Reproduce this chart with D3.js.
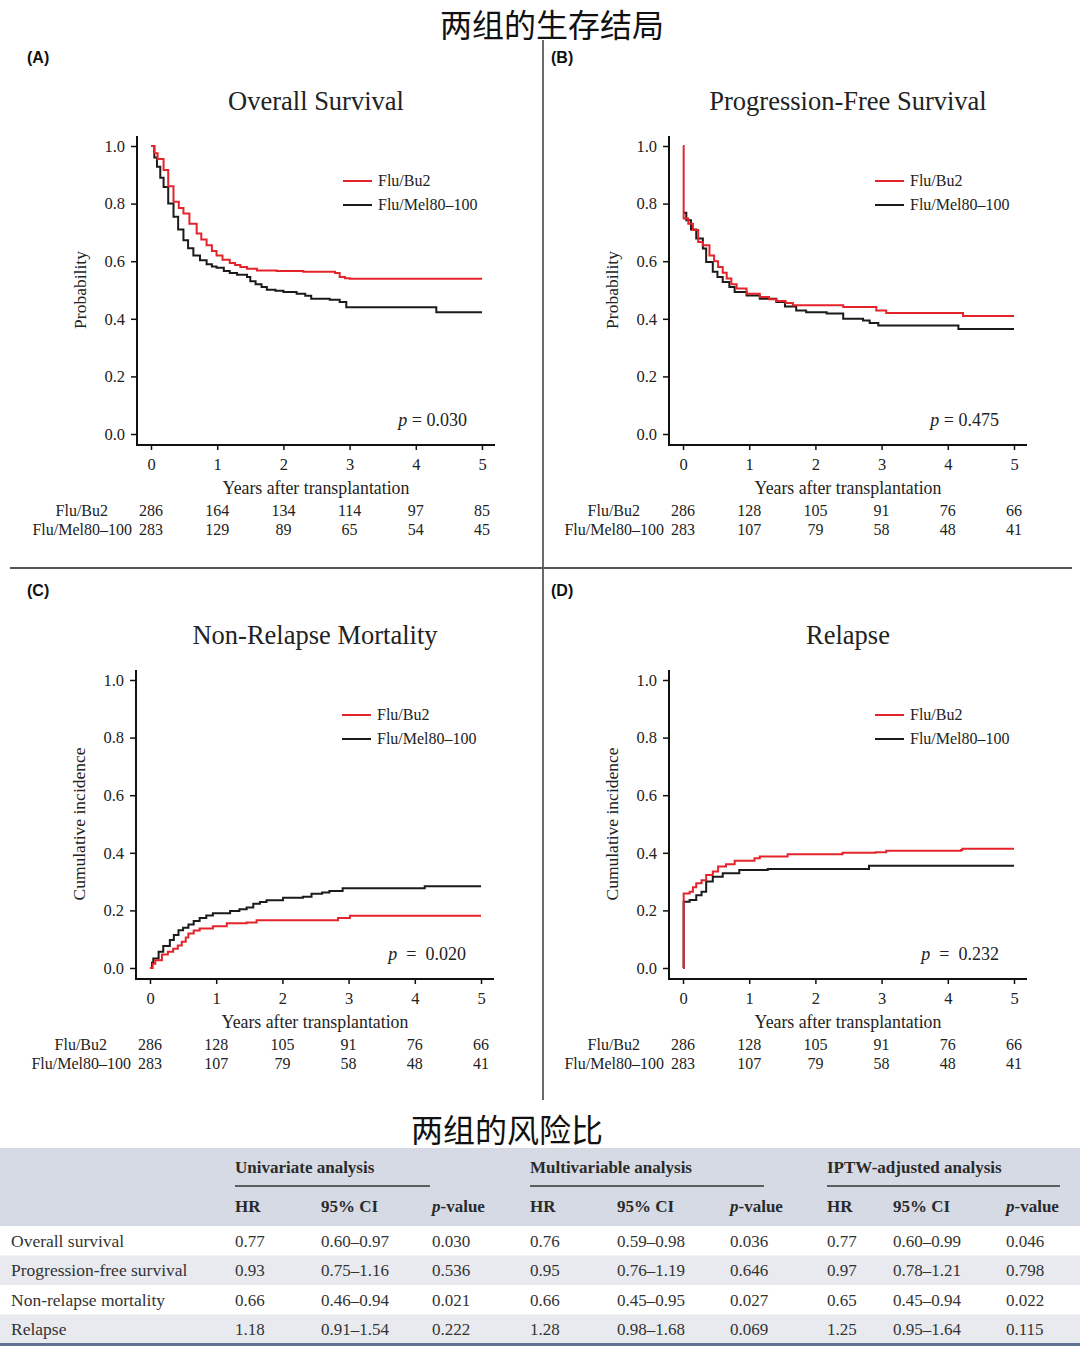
<!DOCTYPE html>
<html><head><meta charset="utf-8">
<script src="https://cdn.jsdelivr.net/npm/d3@7"></script>
<style>
body{margin:0;background:#fff;}
svg{display:block;}
</style></head>
<body>
<svg id="c" width="1080" height="1350"></svg>
<script>
// ---------- DATA ----------
const years = [0,1,2,3,4,5];
const probTicks = [0,0.2,0.4,0.6,0.8,1.0];
const seriesNames = ["Flu/Bu2","Flu/Mel80\u2013100"];

const osBu2 = [[0,1],[0.05,0.975],[0.1,0.955],[0.19,0.917],[0.26,0.86],[0.34,0.806],[0.42,0.785],[0.49,0.766],[0.58,0.73],[0.69,0.696],[0.76,0.675],[0.84,0.655],[0.92,0.635],[0.99,0.62],[1.08,0.605],[1.19,0.594],[1.27,0.587],[1.35,0.58],[1.45,0.574],[1.6,0.568],[1.9,0.566],[2.3,0.563],[2.78,0.559],[2.85,0.545],[2.93,0.541],[3.0,0.539],[5,0.539]];
const osMel = [[0,1],[0.05,0.96],[0.09,0.928],[0.14,0.89],[0.19,0.858],[0.26,0.8],[0.34,0.754],[0.41,0.71],[0.49,0.673],[0.56,0.645],[0.64,0.62],[0.74,0.603],[0.84,0.589],[0.92,0.582],[0.99,0.577],[1.1,0.566],[1.19,0.559],[1.3,0.553],[1.45,0.545],[1.5,0.53],[1.58,0.52],[1.67,0.51],[1.75,0.501],[1.88,0.497],[2.0,0.493],[2.2,0.487],[2.33,0.48],[2.42,0.47],[2.7,0.466],[2.85,0.458],[2.95,0.44],[4.13,0.44],[4.31,0.423],[5,0.423]];

const pfsBu2 = [[0,1],[0.01,0.748],[0.08,0.73],[0.15,0.708],[0.23,0.667],[0.3,0.655],[0.4,0.62],[0.47,0.6],[0.53,0.58],[0.6,0.56],[0.66,0.54],[0.73,0.52],[0.81,0.505],[0.96,0.487],[1.16,0.476],[1.3,0.468],[1.41,0.462],[1.55,0.455],[1.66,0.447],[2.42,0.441],[2.82,0.441],[2.92,0.429],[3.07,0.42],[4.21,0.42],[4.23,0.41],[5,0.41]];
const pfsMel = [[0,0.768],[0.05,0.742],[0.12,0.71],[0.2,0.679],[0.3,0.644],[0.35,0.597],[0.45,0.563],[0.52,0.545],[0.6,0.528],[0.7,0.51],[0.78,0.493],[0.96,0.481],[1.16,0.47],[1.41,0.458],[1.54,0.443],[1.71,0.429],[1.86,0.423],[2.17,0.418],[2.42,0.4],[2.72,0.394],[2.82,0.385],[2.95,0.377],[4.13,0.377],[4.16,0.365],[5,0.365]];

const nrmBu2 = [[0,0],[0.04,0.015],[0.08,0.027],[0.18,0.047],[0.27,0.056],[0.35,0.067],[0.42,0.078],[0.48,0.091],[0.54,0.106],[0.58,0.12],[0.66,0.13],[0.75,0.137],[0.95,0.145],[1.16,0.155],[1.46,0.158],[1.61,0.166],[2.81,0.166],[2.84,0.174],[3.02,0.181],[5,0.181]];
const nrmMel = [[0,0],[0.03,0.018],[0.05,0.033],[0.13,0.056],[0.2,0.076],[0.3,0.097],[0.36,0.115],[0.43,0.131],[0.5,0.14],[0.58,0.151],[0.66,0.163],[0.75,0.174],[0.85,0.182],[0.95,0.19],[1.21,0.198],[1.35,0.204],[1.46,0.21],[1.56,0.223],[1.66,0.229],[1.76,0.235],[2.01,0.244],[2.31,0.247],[2.44,0.258],[2.6,0.262],[2.71,0.267],[2.91,0.277],[4.12,0.277],[4.15,0.284],[5,0.284]];

const relBu2 = [[0,0],[0.01,0.259],[0.1,0.265],[0.15,0.28],[0.2,0.294],[0.28,0.305],[0.35,0.323],[0.45,0.335],[0.53,0.352],[0.65,0.36],[0.78,0.372],[1.08,0.381],[1.16,0.387],[1.58,0.395],[2.39,0.395],[2.41,0.4],[2.91,0.402],[3.07,0.407],[4.2,0.41],[4.22,0.414],[5,0.414]];
const relMel = [[0,0],[0.01,0.23],[0.1,0.236],[0.2,0.253],[0.28,0.265],[0.35,0.3],[0.45,0.317],[0.6,0.329],[0.85,0.34],[1.28,0.344],[2.79,0.344],[2.81,0.355],[5,0.355]];

const riskOSBu2 = [286,164,134,114,97,85];
const riskOSMel = [283,129,89,65,54,45];
const riskBu2 = [286,128,105,91,76,66];
const riskMel = [283,107,79,58,48,41];

const tableRows = ["Overall survival","Progression-free survival","Non-relapse mortality","Relapse"];
const analyses = ["Univariate analysis","Multivariable analysis","IPTW-adjusted analysis"];
const uniHR = ["0.77","0.93","0.66","1.18"];
const uniCI = ["0.60\u20130.97","0.75\u20131.16","0.46\u20130.94","0.91\u20131.54"];
const uniP = ["0.030","0.536","0.021","0.222"];
const mulHR = ["0.76","0.95","0.66","1.28"];
const mulCI = ["0.59\u20130.98","0.76\u20131.19","0.45\u20130.95","0.98\u20131.68"];
const mulP = ["0.036","0.646","0.027","0.069"];
const iptHR = ["0.77","0.97","0.65","1.25"];
const iptCI = ["0.60\u20130.99","0.78\u20131.21","0.45\u20130.94","0.95\u20131.64"];
const iptP = ["0.046","0.798","0.022","0.115"];

// ---------- DRAW ----------
const svg = d3.select("#c");
const SERIF = "'Liberation Serif','Times New Roman',serif";
const CJK = "'Noto Sans CJK SC',sans-serif";
const RED = "#e3242b", BLK = "#1b1b1b";

svg.append("text").attr("x",552).attr("y",37).attr("text-anchor","middle")
  .attr("font-family",CJK).attr("font-size",32).attr("fill","#111").text("两组的生存结局");

// dividers
svg.append("line").attr("x1",543).attr("x2",543).attr("y1",40).attr("y2",1100).attr("stroke","#444").attr("stroke-width",1.6);
svg.append("line").attr("x1",10).attr("x2",1072).attr("y1",568).attr("y2",568).attr("stroke","#555").attr("stroke-width",2);

const panels = [
  {lab:"(A)", lx:27, ly:63, title:"Overall Survival", ox:0, oy:0, ylab:"Probability", s1:osBu2, s2:osMel, r1:riskOSBu2, r2:riskOSMel, p:"0.030", pSp:""},
  {lab:"(B)", lx:551, ly:63, title:"Progression-Free Survival", ox:532, oy:0, ylab:"Probability", s1:pfsBu2, s2:pfsMel, r1:riskBu2, r2:riskMel, p:"0.475", pSp:""},
  {lab:"(C)", lx:27, ly:596, title:"Non-Relapse Mortality", ox:-1, oy:534, ylab:"Cumulative incidence", s1:nrmBu2, s2:nrmMel, r1:riskBu2, r2:riskMel, p:"0.020", pSp:" "},
  {lab:"(D)", lx:551, ly:596, title:"Relapse", ox:532, oy:534, ylab:"Cumulative incidence", s1:relBu2, s2:relMel, r1:riskBu2, r2:riskMel, p:"0.232", pSp:" "}
];

panels.forEach(P => {
  const g = svg.append("g").attr("transform",`translate(${P.ox},${P.oy})`);
  svg.append("text").attr("x",P.lx).attr("y",P.ly).attr("font-family","'Liberation Sans',Arial,sans-serif")
    .attr("font-weight","bold").attr("font-size",16).attr("fill","#111").text(P.lab);

  const x = d3.scaleLinear().domain([0,5]).range([151,482]);
  const y = d3.scaleLinear().domain([0,1]).range([434,146]);

  g.append("text").attr("x",316).attr("y",110).attr("text-anchor","middle").attr("font-family",SERIF)
    .attr("font-size",26.5).attr("fill","#222").text(P.title);

  // axis lines
  g.append("line").attr("x1",137).attr("x2",137).attr("y1",136).attr("y2",446).attr("stroke","#111").attr("stroke-width",2);
  g.append("line").attr("x1",136).attr("x2",495).attr("y1",445).attr("y2",445).attr("stroke","#111").attr("stroke-width",2);

  const ya = g.append("g").attr("transform","translate(137,0)")
    .call(d3.axisLeft(y).tickValues(probTicks).tickFormat(d3.format(".1f")).tickSize(6).tickPadding(6));
  ya.select(".domain").remove();
  ya.selectAll("line").attr("stroke","#111").attr("stroke-width",1.5);
  ya.selectAll("text").attr("font-family",SERIF).attr("font-size",16.5).attr("fill","#222");

  const xa = g.append("g").attr("transform","translate(0,445)")
    .call(d3.axisBottom(x).tickValues(years).tickFormat(d3.format("d")).tickSize(5).tickPadding(8));
  xa.select(".domain").remove();
  xa.selectAll("line").attr("stroke","#111").attr("stroke-width",1.5);
  xa.selectAll("text").attr("font-family",SERIF).attr("font-size",16.5).attr("fill","#222");

  g.append("text").attr("x",316).attr("y",494).attr("text-anchor","middle").attr("font-family",SERIF)
    .attr("font-size",17.8).attr("fill","#222").text("Years after transplantation");
  g.append("text").attr("transform",`translate(86,290) rotate(-90)`).attr("text-anchor","middle")
    .attr("font-family",SERIF).attr("font-size",17.5).attr("fill","#222").text(P.ylab);

  const line = d3.line().x(d=>x(d[0])).y(d=>y(d[1])).curve(d3.curveStepAfter);
  g.append("path").datum(P.s2).attr("d",line).attr("fill","none").attr("stroke",BLK).attr("stroke-width",2);
  g.append("path").datum(P.s1).attr("d",line).attr("fill","none").attr("stroke",RED).attr("stroke-width",2);

  // legend
  [[RED,seriesNames[0],181],[BLK,seriesNames[1],205]].forEach(([c,t,yy])=>{
    g.append("line").attr("x1",343).attr("x2",372).attr("y1",yy).attr("y2",yy).attr("stroke",c).attr("stroke-width",2);
    g.append("text").attr("x",378).attr("y",yy+5).attr("font-family",SERIF).attr("font-size",16).attr("fill","#222").text(t);
  });

  // p value
  const pt = g.append("text").attr("x",467).attr("y",426).attr("text-anchor","end").attr("font-family",SERIF)
    .attr("font-size",18).attr("fill","#222");
  pt.append("tspan").attr("font-style","italic").text("p");
  pt.append("tspan").text(P.pSp ? "  =  " + P.p : " = " + P.p).attr("xml:space","preserve");

  // risk table
  const rg = g.append("g").attr("font-family",SERIF).attr("font-size",16).attr("fill","#222");
  rg.append("text").attr("x",108).attr("y",516).attr("text-anchor","end").text(seriesNames[0]);
  rg.append("text").attr("x",132).attr("y",535).attr("text-anchor","end").text(seriesNames[1]);
  rg.selectAll(".r1").data(P.r1).join("text").attr("x",(d,i)=>x(years[i])).attr("y",516).attr("text-anchor","middle").text(d=>d);
  rg.selectAll(".r2").data(P.r2).join("text").attr("x",(d,i)=>x(years[i])).attr("y",535).attr("text-anchor","middle").text(d=>d);
});

// ---------- TABLE ----------
svg.append("text").attr("x",507).attr("y",1142).attr("text-anchor","middle")
  .attr("font-family",CJK).attr("font-size",32).attr("fill","#111").text("两组的风险比");

const tg = svg.append("g");
tg.append("rect").attr("x",0).attr("y",1148).attr("width",1080).attr("height",78).attr("fill","#d6dae4");
const rowY = d3.scaleBand().domain(tableRows).range([1226,1344]);
tableRows.forEach((r,i)=>{
  tg.append("rect").attr("x",0).attr("y",rowY(r)).attr("width",1080).attr("height",rowY.bandwidth())
    .attr("fill", i%2 ? "#e8eaf0" : "#ffffff");
});
tg.append("rect").attr("x",0).attr("y",1343).attr("width",1080).attr("height",3).attr("fill","#5f7291");

const groups = [
  {x:235, hx:[235,321,432], ux2:430, hr:uniHR, ci:uniCI, p:uniP},
  {x:530, hx:[530,617,730], ux2:764, hr:mulHR, ci:mulCI, p:mulP},
  {x:827, hx:[827,893,1006], ux2:1060, hr:iptHR, ci:iptCI, p:iptP}
];
const TF = "'Liberation Serif','Times New Roman',serif";
groups.forEach((G,gi)=>{
  tg.append("text").attr("x",G.x).attr("y",1173).attr("font-family",TF).attr("font-weight","bold")
    .attr("font-size",17).attr("fill","#2a2a2a").text(analyses[gi]);
  tg.append("line").attr("x1",G.x).attr("x2",G.ux2).attr("y1",1186).attr("y2",1186).attr("stroke","#333").attr("stroke-width",1.3);
  tg.append("text").attr("x",G.hx[0]).attr("y",1212).attr("font-family",TF).attr("font-weight","bold").attr("font-size",17).attr("fill","#2a2a2a").text("HR");
  tg.append("text").attr("x",G.hx[1]).attr("y",1212).attr("font-family",TF).attr("font-weight","bold").attr("font-size",17).attr("fill","#2a2a2a").text("95% CI");
  const pv = tg.append("text").attr("x",G.hx[2]).attr("y",1212).attr("font-family",TF).attr("font-weight","bold").attr("font-size",17).attr("fill","#2a2a2a");
  pv.append("tspan").attr("font-style","italic").text("p");
  pv.append("tspan").text("-value");
  tableRows.forEach((r,i)=>{
    const yy = rowY(r) + rowY.bandwidth()/2 + 6;
    tg.append("text").attr("x",G.hx[0]).attr("y",yy).attr("font-family",TF).attr("font-size",17).attr("fill","#333").text(G.hr[i]);
    tg.append("text").attr("x",G.hx[1]).attr("y",yy).attr("font-family",TF).attr("font-size",17).attr("fill","#333").text(G.ci[i]);
    tg.append("text").attr("x",G.hx[2]).attr("y",yy).attr("font-family",TF).attr("font-size",17).attr("fill","#333").text(G.p[i]);
  });
});
tableRows.forEach(r=>{
  tg.append("text").attr("x",11).attr("y",rowY(r)+rowY.bandwidth()/2+6).attr("font-family",TF)
    .attr("font-size",17.5).attr("fill","#333").text(r);
});
</script>
</body></html>
